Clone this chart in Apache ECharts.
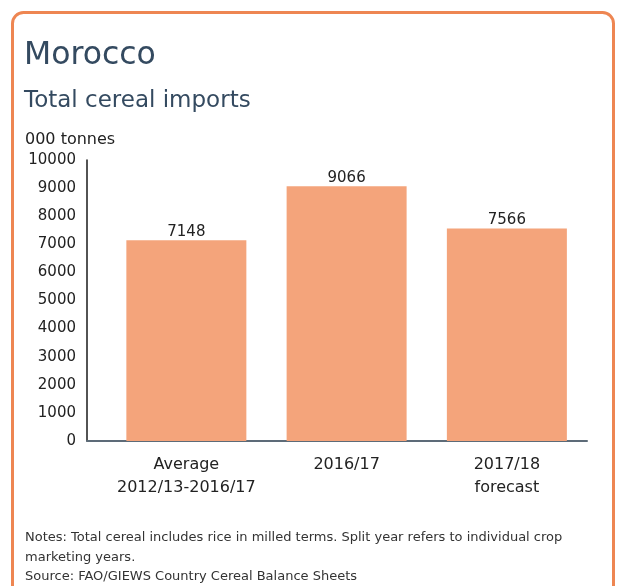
<!DOCTYPE html>
<html>
<head>
<meta charset="utf-8">
<script src="https://cdn.jsdelivr.net/npm/echarts@6/dist/echarts.min.js"></script>
<style>
html,body{margin:0;padding:0;background:#fff;}
#c{width:620px;height:586px;}
</style>
</head>
<body>
<div id="c"></div>
<script>
var categories = ['Average\n2012/13-2016/17', '2016/17', '2017/18\nforecast'];
var imports = [7148, 9066, 7566];
var yTicks = [0, 10000, 1000];

var FONT = '"DejaVu Sans", sans-serif';
var chart = echarts.init(document.getElementById('c'), null, {renderer: 'canvas'});

var seriesData = imports.map(function (v, i) { return [i, v]; });

chart.setOption({
  backgroundColor: '#ffffff',
  animation: false,
  textStyle: {fontFamily: FONT},
  graphic: [{
    type: 'rect',
    shape: {x: 12.5, y: 12.5, width: 601, height: 640, r: 11},
    style: {fill: '#ffffff', stroke: '#EE8652', lineWidth: 3},
    z: -10,
    silent: true
  }],
  title: [
    {text: 'Morocco', left: 24, top: 40, padding: 0,
     textStyle: {fontFamily: FONT, fontSize: 31.5, fontWeight: 'normal', color: '#344a60'}},
    {text: 'Total cereal imports', left: 24, top: 90, padding: 0,
     textStyle: {fontFamily: FONT, fontSize: 23, fontWeight: 'normal', color: '#344a60'}},
    {text: '000 tonnes', left: 25, top: 132, padding: 0,
     textStyle: {fontFamily: FONT, fontSize: 16, fontWeight: 'normal', color: '#222222'}},
    {text: 'Notes: Total cereal includes rice in milled terms. Split year refers to individual crop\nmarketing years.\nSource: FAO/GIEWS Country Cereal Balance Sheets',
     left: 25, top: 528, padding: 0,
     textStyle: {fontFamily: FONT, fontSize: 13, fontWeight: 'normal', color: '#333333', lineHeight: 19.5}}
  ],
  grid: {left: 87, right: 33, top: 160, bottom: 145, containLabel: false},
  xAxis: {
    type: 'value',
    min: -0.62,
    max: 2.5,
    splitLine: {show: false},
    axisLine: {show: true, onZero: false, lineStyle: {color: '#5d6b78', width: 2}},
    axisTick: {show: false},
    axisLabel: {
      customValues: [0, 1, 2],
      formatter: function (v) { return categories[Math.round(v)] || ''; },
      color: '#222222', fontSize: 16, lineHeight: 23, margin: 12, fontFamily: FONT
    }
  },
  yAxis: {
    type: 'value',
    min: yTicks[0],
    max: yTicks[1],
    interval: yTicks[2],
    splitLine: {show: false},
    axisLine: {show: true, onZero: false, lineStyle: {color: '#1a1a1a', width: 1.5}},
    axisTick: {show: false},
    axisLabel: {color: '#222222', fontSize: 15, margin: 11, fontFamily: FONT,
      formatter: function (v) { return String(v); }}
  },
  series: [{
    type: 'bar',
    data: seriesData,
    barWidth: 120,
    itemStyle: {color: '#F4A47B'},
    label: {show: true, position: 'top', distance: 1, color: '#222222', fontSize: 15, fontFamily: FONT}
  }]
});
</script>
</body>
</html>
